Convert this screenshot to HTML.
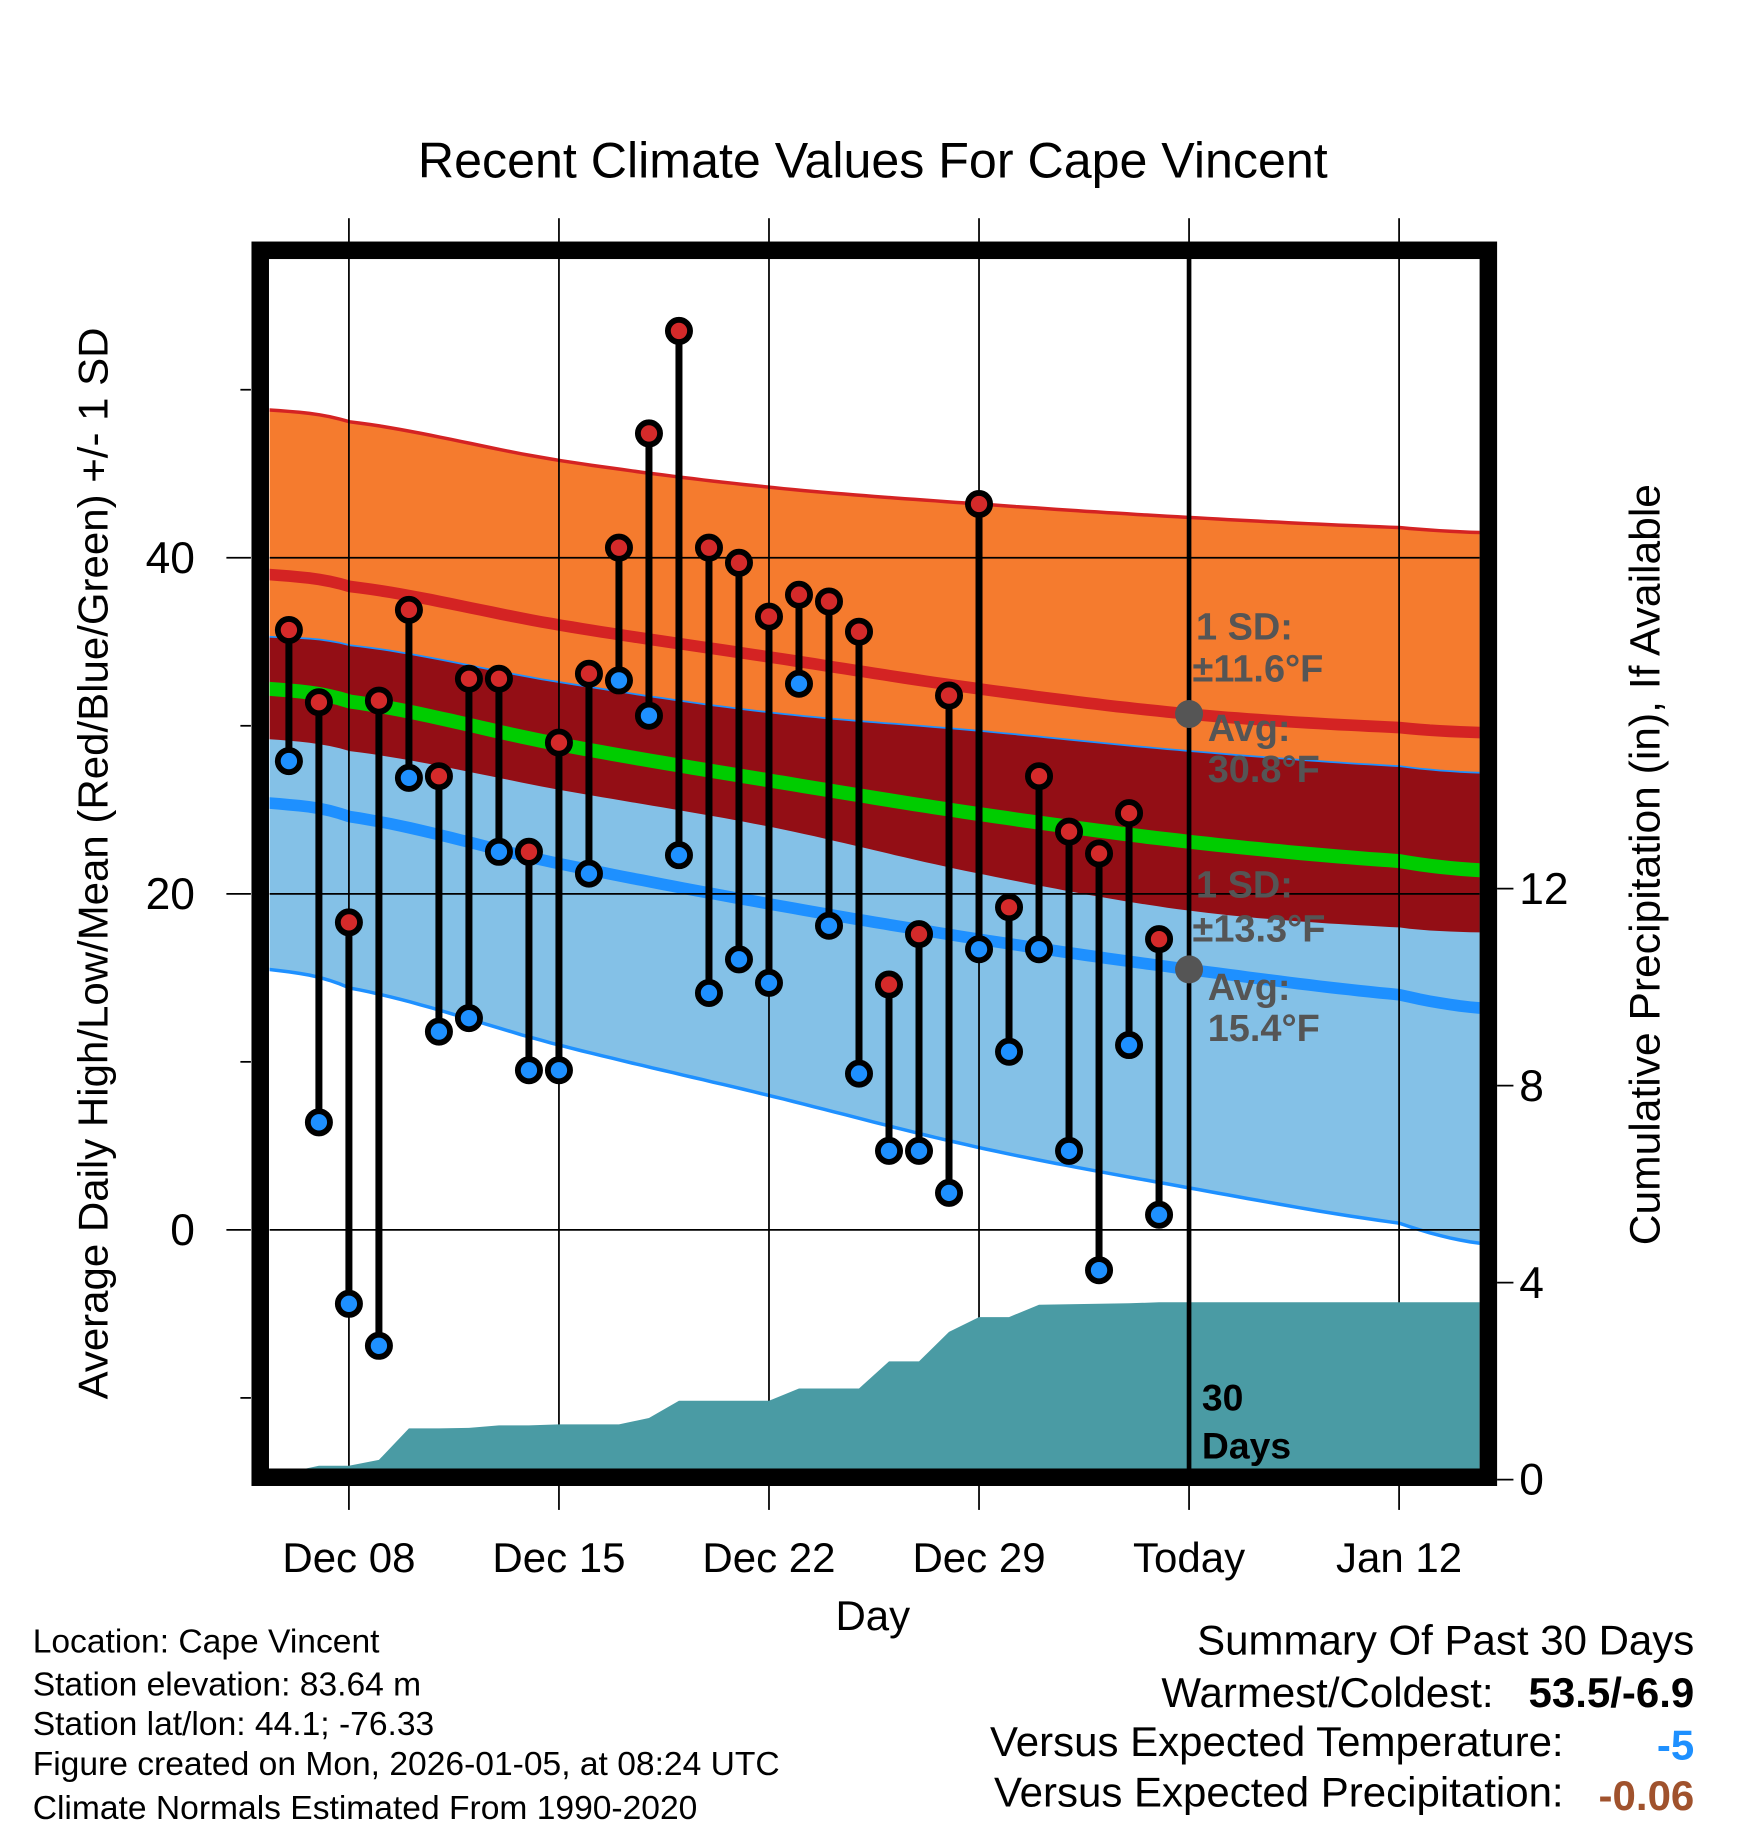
<!DOCTYPE html>
<html><head><meta charset="utf-8">
<style>
html,body{margin:0;padding:0;background:#fff;overflow:hidden;}
svg{display:block;font-family:"Liberation Sans",Arial,sans-serif;}
</style></head>
<body>
<svg id="chart" width="1748" height="1828" viewBox="0 0 1498 1566.6" xmlns="http://www.w3.org/2000/svg">
<text x="748" y="152" font-size="43" text-anchor="middle">Recent Climate Values For Cape Vincent</text>
<g id="plot"></g>
<text transform="translate(92,740) rotate(-90)" font-size="36" text-anchor="middle">Average Daily High/Low/Mean (Red/Blue/Green) +/- 1 SD</text>
<text transform="translate(1422,741) rotate(-90)" font-size="36.5" text-anchor="middle">Cumulative Precipitation (in), If Available</text>
<text x="748" y="1397" font-size="36" text-anchor="middle">Day</text>
<g font-size="28.8">
<text x="28" y="1416">Location: Cape Vincent</text>
<text x="28" y="1453">Station elevation: 83.64 m</text>
<text x="28" y="1487">Station lat/lon: 44.1; -76.33</text>
<text x="28" y="1521">Figure created on Mon, 2026-01-05, at 08:24 UTC</text>
<text x="28" y="1559">Climate Normals Estimated From 1990-2020</text>
</g>
<g font-size="36">
<text x="1452" y="1418" text-anchor="end">Summary Of Past 30 Days</text>
<text x="1280" y="1463" text-anchor="end">Warmest/Coldest:</text>
<text x="1452" y="1463" text-anchor="end" font-weight="bold">53.5/-6.9</text>
<text x="1340" y="1505" text-anchor="end">Versus Expected Temperature:</text>
<text x="1452" y="1508" text-anchor="end" font-weight="bold" fill="#1e90ff">-5</text>
<text x="1340" y="1548" text-anchor="end">Versus Expected Precipitation:</text>
<text x="1452" y="1551" text-anchor="end" font-weight="bold" fill="#a0522d">-0.06</text>
</g>
</svg>
<script>
// Days relative to Dec 08 (day 0)
const obsDays = [-2,-1,0,1,2,3,4,5,6,7,8,9,10,11,12,13,14,15,16,17,18,19,20,21,22,23,24,25,26,27];
const highs = [35.7,31.4,18.3,31.5,36.9,27.0,32.8,32.8,22.5,29.0,33.1,40.6,47.4,53.5,40.6,39.7,36.5,37.8,37.4,35.6,14.6,17.6,31.8,43.2,19.2,27.0,23.7,22.4,24.8,17.3];
const lows  = [27.9,6.4,-4.4,-6.9,26.9,11.8,12.6,22.5,9.5,9.5,21.2,32.7,30.6,22.3,14.1,16.1,14.7,32.5,18.1,9.3,4.7,4.7,2.2,16.7,10.6,16.7,4.7,-2.4,11.0,0.9];
const precipCum = [0.15,0.28,0.28,0.4,1.04,1.04,1.05,1.1,1.1,1.12,1.12,1.12,1.25,1.6,1.6,1.6,1.6,1.85,1.85,1.85,2.4,2.4,3.0,3.3,3.3,3.55,3.56,3.57,3.58,3.6];
// Normals at sample days
const normDays  = [-2.66,0,7,14,21,28,35,37.7];
const normHigh  = [39.0,38.3,36.0,34.1,32.2,30.7,29.9,29.6];
const normHighUp= [48.8,48.1,45.8,44.2,43.2,42.4,41.8,41.5];
const normLow   = [25.4,24.6,21.8,19.4,17.3,15.5,14.0,13.2];
const normLowUp = [35.3,34.8,32.6,30.8,29.7,28.5,27.6,27.2];
const xTickDays = [0,7,14,21,28,35];
const xTickLabels = ["Dec 08","Dec 15","Dec 22","Dec 29","Today","Jan 12"];
const yTicks = [0,20,40];
const yMinor = [-10,10,30,50];
const y2Ticks = [0,4,8,12];

const NS="http://www.w3.org/2000/svg";
const plot=document.getElementById('plot');
const X0=231,X1=1268,Y0=222,Y1=1259;
const dayX=d=>299+d*180/7;
const tY=t=>1054-t*14.4;
const pY=p=>1268-p*42.2;
function el(tag,attrs,parent){const e=document.createElementNS(NS,tag);for(const k in attrs)e.setAttribute(k,attrs[k]);(parent||plot).appendChild(e);return e;}
function interp(arr,d){
  let i=0;while(i<normDays.length-2&&d>normDays[i+1])i++;
  const p0=arr[Math.max(i-1,0)],p1=arr[i],p2=arr[i+1],p3=arr[Math.min(i+2,arr.length-1)];
  const t=(d-normDays[i])/(normDays[i+1]-normDays[i]);
  return 0.5*((2*p1)+(-p0+p2)*t+(2*p0-5*p1+4*p2-p3)*t*t+(-p0+3*p1-3*p2+p3)*t*t*t);
}
const samp=[];for(let i=0;i<=120;i++)samp.push(normDays[0]+(normDays[normDays.length-1]-normDays[0])*i/120);
const hiUp=d=>interp(normHighUp,d), hi=d=>interp(normHigh,d), hiLo=d=>2*hi(d)-hiUp(d);
const loUp=d=>interp(normLowUp,d), lo=d=>interp(normLow,d), loLo=d=>2*lo(d)-loUp(d);
const line=f=>samp.map(d=>dayX(d).toFixed(1)+','+tY(f(d)).toFixed(1));
const band=(fa,fb)=>line(fa).concat(line(fb).reverse()).join(' ');

const clip=el('clipPath',{id:'pc'});el('rect',{x:X0,y:Y0,width:X1-X0,height:Y1-Y0},clip);
const g=el('g',{'clip-path':'url(#pc)'});
let e;
e=el('polygon',{points:band(hiUp,hiLo),fill:'#f57b2e'},g);


e=el('polygon',{points:band(loUp,loLo),fill:'#84c1e7'},g);


e=el('polygon',{points:band(loUp,hiLo),fill:'#930e15'},g);


e=el('polyline',{points:line(hiUp).join(' '),fill:'none',stroke:'#d42323','stroke-width':3},g);


e=el('polyline',{points:line(loUp).join(' '),fill:'none',stroke:'#1e90ff','stroke-width':1.5},g);


e=el('polyline',{points:line(loLo).join(' '),fill:'none',stroke:'#1e90ff','stroke-width':3},g);


e=el('polyline',{points:line(hi).join(' '),fill:'none',stroke:'#d42323','stroke-width':10},g);


e=el('polyline',{points:line(lo).join(' '),fill:'none',stroke:'#1e90ff','stroke-width':10},g);


e=el('polyline',{points:line(d=>(hi(d)+lo(d))/2).join(' '),fill:'none',stroke:'#00cc00','stroke-width':12},g);


xTickDays.forEach(d=>{
  e=el('line',{x1:dayX(d),x2:dayX(d),y1:Y0,y2:Y1,stroke:'#000','stroke-width':1.5},g);
  
  
});
yTicks.forEach(t=>{
  e=el('line',{x1:X0,x2:X1,y1:tY(t),y2:tY(t),stroke:'#000','stroke-width':1.5},g);
  
  
});
let pts=[X0+','+pY(precipCum[0])];
obsDays.forEach((d,i)=>pts.push(dayX(d)+','+pY(precipCum[i])));
pts.push(X1+','+pY(precipCum[precipCum.length-1]));
pts.push(X1+','+(Y1+5));pts.push(X0+','+(Y1+5));
e=el('polygon',{points:pts.join(' '),fill:'#4a9ba4'},g);


e=el('line',{x1:dayX(28),x2:dayX(28),y1:Y0,y2:Y1,stroke:'#000','stroke-width':4},g);


const ann=el('g',{fill:'#555','font-weight':'bold','font-size':32.5},g);


[[1025,548,'1 SD:'],[1022,584,'±11.6°F'],[1035,635,'Avg:'],[1035,670,'30.8°F'],[1025,769,'1 SD:'],[1022,807,'±13.3°F'],[1035,857,'Avg:'],[1035,892,'15.4°F']].forEach(a=>{
  const t=el('text',{x:a[0],y:a[1]},ann);t.textContent=a[2];
});
e=el('circle',{cx:dayX(28),cy:tY(hi(28)),r:12,fill:'#555'},g);


e=el('circle',{cx:dayX(28),cy:tY(lo(28)),r:12,fill:'#555'},g);


let t=el('text',{x:1030,y:1209,'font-size':32,'font-weight':'bold'},g);t.textContent='30';


t=el('text',{x:1030,y:1250,'font-size':32,'font-weight':'bold'},g);t.textContent='Days';
obsDays.forEach((d,i)=>{
  const x=dayX(d);
  let m=el('line',{x1:x,x2:x,y1:tY(highs[i]),y2:tY(lows[i]),stroke:'#000','stroke-width':6});
  
  
});
obsDays.forEach((d,i)=>{
  const x=dayX(d);
  let m=el('circle',{cx:x,cy:tY(highs[i]),r:9.5,fill:'#d42a2a',stroke:'#000','stroke-width':5});
  
  
  m=el('circle',{cx:x,cy:tY(lows[i]),r:9.5,fill:'#1e90ff',stroke:'#000','stroke-width':5});
  
  
});
e=el('rect',{x:223,y:214.5,width:1052.5,height:1051.5,fill:'none',stroke:'#000','stroke-width':15});


xTickDays.forEach((d,i)=>{
  const x=dayX(d);
  el('line',{x1:x,x2:x,y1:187,y2:208,stroke:'#000','stroke-width':1.5});
  el('line',{x1:x,x2:x,y1:1273,y2:1294,stroke:'#000','stroke-width':1.5});
  const l=el('text',{x:x,y:1347,'font-size':36,'text-anchor':'middle'});l.textContent=xTickLabels[i];
  
  
});
yTicks.forEach(v=>{
  el('line',{x1:194,x2:215,y1:tY(v),y2:tY(v),stroke:'#000','stroke-width':1.5});
  const l=el('text',{x:167,y:tY(v)+13,'font-size':38,'text-anchor':'end'});l.textContent=v;
  
  
});
yMinor.forEach(v=>el('line',{x1:206,x2:215,y1:tY(v),y2:tY(v),stroke:'#000','stroke-width':1.5}));
y2Ticks.forEach(v=>{
  el('line',{x1:1283,x2:1297,y1:pY(v),y2:pY(v),stroke:'#000','stroke-width':1.5});
  const l=el('text',{x:1302,y:pY(v)+13,'font-size':38});l.textContent=v;
  
  
});
</script>
</body></html>
